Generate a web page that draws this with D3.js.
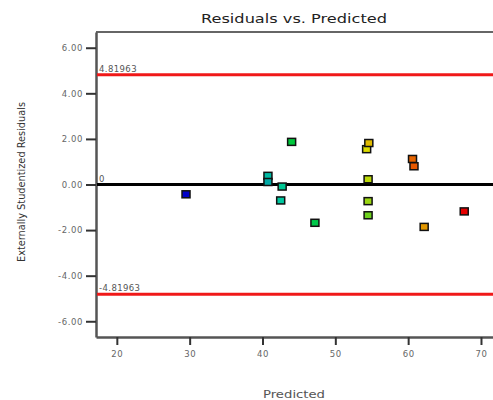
<!DOCTYPE html>
<html>
<head>
<meta charset="utf-8">
<script src="https://cdn.jsdelivr.net/npm/d3@7"></script>
<style>
  body { margin: 0; background: #fff; }
  text { font-family: "DejaVu Sans", sans-serif; }
</style>
</head>
<body>
<div id="chart"></div>
<script>
// data
const predicted = [29.5, 40.75, 40.75, 42.7, 42.5, 44.0, 47.2, 54.5, 54.5, 54.5, 54.3, 54.6, 62.2, 60.6, 60.8, 67.7];
const residuals = [-0.43, 0.38, 0.11, -0.09, -0.70, 1.87, -1.68, -1.35, -0.73, 0.23, 1.55, 1.82, -1.86, 1.12, 0.80, -1.18];
// colour key: estimated actual response for each run
const response = [29, 41, 40, 42.5, 42, 46, 45.5, 51, 53, 54.5, 56, 58, 60, 63, 63.5, 67];
const limits = [4.81963, 0, -4.81963];
const limitLabels = ["4.81963", "0", "-4.81963"];
const xTicks = [20, 30, 40, 50, 60, 70];
const yTicks = [6, 4, 2, 0, -2, -4, -6];

const W = 493, H = 400;
const margin = {top: 32, right: 0, bottom: 63, left: 96};

const svg = d3.select("#chart")
    .append("svg")
    .attr("width", W)
    .attr("height", H);

const x = d3.scaleLinear()
    .domain([17.14, 71.65])
    .range([margin.left, W - margin.right]);

const y = d3.scaleLinear()
    .domain([-6.69, 6.69])
    .range([H - margin.bottom, margin.top]);

const color = d3.scaleLinear()
    .domain([29, 42, 46, 56, 63, 67])
    .range(["#0000c8", "#00c8a0", "#00c83c", "#dcdc00", "#e66400", "#e60000"]);

// frame: top border
svg.append("line")
    .attr("x1", x.range()[0]).attr("x2", W)
    .attr("y1", y.range()[1]).attr("y2", y.range()[1])
    .attr("stroke", "#333").attr("stroke-width", 1.5);

// axes (plain hyphen for negatives, like the original)
const fmt = function (d) { return d.toFixed(2); };

const yAxis = svg.append("g")
    .attr("transform", `translate(${margin.left},0)`)
    .call(d3.axisLeft(y).tickValues(yTicks).tickFormat(fmt).tickSize(10).tickSizeOuter(0).tickPadding(3));

const xAxis = svg.append("g")
    .attr("transform", `translate(0,${H - margin.bottom})`)
    .call(d3.axisBottom(x).tickValues(xTicks).tickSize(8).tickSizeOuter(0).tickPadding(6));

[xAxis, yAxis].forEach(function (g) {
    g.select(".domain").attr("stroke", "#555").attr("stroke-width", 2.5);
    g.selectAll(".tick line").attr("stroke", "#333").attr("stroke-width", 2);
    g.selectAll(".tick text")
        .attr("fill", "#666")
        .style("font-size", "8.5px")
        .style("letter-spacing", "0.6px")
        .style("font-family", "'DejaVu Sans', sans-serif");
});

// limit lines
svg.selectAll(".limit")
    .data(limits)
    .enter()
    .append("line")
    .attr("x1", x.range()[0] + 1).attr("x2", W)
    .attr("y1", function (d) { return y(d); })
    .attr("y2", function (d) { return y(d); })
    .attr("stroke", function (d) { return d === 0 ? "#000" : "#f01818"; })
    .attr("stroke-width", 3);

svg.selectAll(".limitLabel")
    .data(limits)
    .enter()
    .append("text")
    .attr("x", x.range()[0] + 3)
    .attr("y", function (d) { return y(d) - 3; })
    .attr("fill", "#555")
    .style("font-size", "8.5px")
    .style("letter-spacing", "0.4px")
    .text(function (d, i) { return limitLabels[i]; });

// points
svg.selectAll(".pt")
    .data(predicted)
    .enter()
    .append("rect")
    .attr("x", function (d) { return x(d) - 4; })
    .attr("y", function (d, i) { return y(residuals[i]) - 3.5; })
    .attr("width", 8)
    .attr("height", 7)
    .attr("fill", function (d, i) { return color(response[i]); })
    .attr("stroke", "#111")
    .attr("stroke-width", 1.5);

// title and labels
svg.append("text")
    .attr("x", 294).attr("y", 23)
    .attr("text-anchor", "middle")
    .attr("fill", "#222")
    .style("font-size", "13px")
    .attr("textLength", 186)
    .attr("lengthAdjust", "spacingAndGlyphs")
    .text("Residuals vs. Predicted");

svg.append("text")
    .attr("transform", "translate(25,182) rotate(-90)")
    .attr("text-anchor", "middle")
    .attr("fill", "#333")
    .style("font-size", "11px")
    .attr("textLength", 160)
    .attr("lengthAdjust", "spacingAndGlyphs")
    .text("Externally Studentized Residuals");

svg.append("text")
    .attr("x", 294).attr("y", 398)
    .attr("text-anchor", "middle")
    .attr("fill", "#555")
    .style("font-size", "10.5px")
    .attr("textLength", 62)
    .attr("lengthAdjust", "spacingAndGlyphs")
    .text("Predicted");
</script>
</body>
</html>
